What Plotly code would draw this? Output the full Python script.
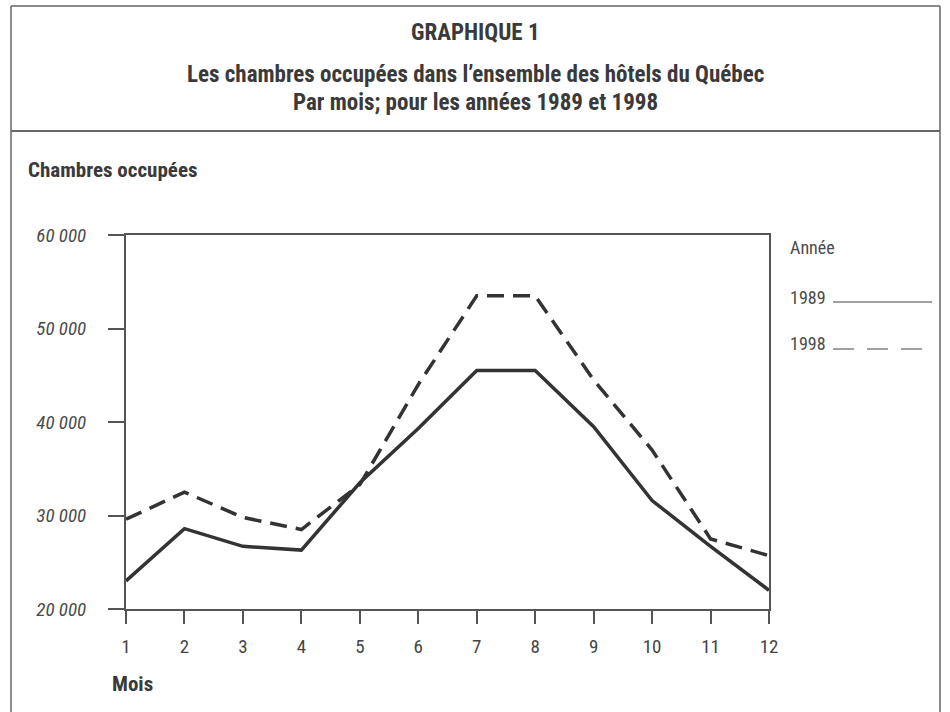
import plotly.graph_objects as go

# ---- data ----
mois = [1, 2, 3, 4, 5, 6, 7, 8, 9, 10, 11, 12]
chambres_1989 = [23000, 28600, 26700, 26300, 33500, 39300, 45500, 45500, 39500, 31600, 26700, 22000]
chambres_1998 = [29600, 32500, 29800, 28500, 33300, 44000, 53500, 53500, 44500, 37000, 27500, 25700]
y_ticks = [20000, 30000, 40000, 50000, 60000]
y_tick_labels = ["20 000", "30 000", "40 000", "50 000", "60 000"]

# ---- layout geometry (pixels) ----
W, H = 950, 712
L, R, T, B = 126, 769, 235, 609

def px(x):
    return (x - L) / (R - L)

def py(y):
    return (B - y) / (B - T)

FONT = "Liberation Sans Narrow, Roboto Condensed, Arial Narrow, Roboto, sans-serif"
TXT = "#3a3a3a"
LINE = "#333333"
AX = "#555555"

fig = go.Figure()
fig.add_trace(go.Scatter(x=mois, y=chambres_1989, mode="lines", name="1989",
                         line=dict(color=LINE, width=3.5), cliponaxis=False))
fig.add_trace(go.Scatter(x=mois, y=chambres_1998, mode="lines", name="1998",
                         line=dict(color=LINE, width=3.5, dash="17px,9px"), cliponaxis=False))

fig.update_layout(
    width=W, height=H,
    margin=dict(l=L, r=W - R, t=T, b=H - B),
    paper_bgcolor="white", plot_bgcolor="white",
    showlegend=False,
    font=dict(family=FONT, color=TXT),
)
fig.update_xaxes(range=[1, 12], tickvals=mois, ticks="outside", ticklen=13, tickwidth=2,
                 tickcolor=AX, showline=True, linecolor=AX, linewidth=2, mirror=True,
                 showgrid=False, zeroline=False, ticklabelstandoff=6,
                 tickfont=dict(family=FONT, size=19, color="#444444"))
fig.update_yaxes(range=[20000, 60000], tickvals=y_ticks, ticktext=y_tick_labels,
                 ticks="outside", ticklen=16, tickwidth=2, tickcolor=AX,
                 showline=True, linecolor=AX, linewidth=2, mirror=True,
                 showgrid=False, zeroline=False, ticklabelstandoff=18,
                 tickfont=dict(family=FONT, size=19, color="#4a4a4a", style="italic"))

ann = []
def text(x, y, s, size, bold=False, anchor="center", style="normal", color=TXT):
    ann.append(dict(x=px(x), y=py(y), xref="paper", yref="paper", text=s, showarrow=False,
                    xanchor=anchor, yanchor="middle",
                    font=dict(family=FONT, size=size, color=color,
                              weight="bold" if bold else "normal", style=style)))

text(475, 32, "GRAPHIQUE 1", 23, bold=True)
text(475, 74, "Les chambres occupées dans l’ensemble des hôtels du Québec", 23, bold=True)
text(475, 103, "Par mois; pour les années 1989 et 1998", 23, bold=True)
text(26, 170, "Chambres occupées", 21, bold=True, anchor="left")
text(110, 684, "Mois", 21, bold=True, anchor="left")
text(788, 247, "Année", 18, anchor="left", color="#4a4a4a")
text(788, 297, "1989", 18, anchor="left", color="#4a4a4a")
text(788, 343, "1998", 18, anchor="left", color="#4a4a4a")
fig.update_layout(annotations=ann)

shapes = []
def seg(x0, y0, x1, y1, color="#666666", width=1.5, dash="solid"):
    shapes.append(dict(type="line", xref="paper", yref="paper",
                       x0=px(x0), y0=py(y0), x1=px(x1), y1=py(y1),
                       line=dict(color=color, width=width, dash=dash)))

# outer frame
seg(11, 6, 940, 6)
seg(11, 6, 11, 712)
seg(940, 6, 940, 712)
seg(11, 131, 940, 131, width=2)
# legend samples
seg(833, 302, 932, 302, color="#444444", width=1.2)
seg(833, 349, 932, 349, color="#444444", width=1.2, dash="21px,13px")
fig.update_layout(shapes=shapes)

fig.write_html("out.html", config={"displayModeBar": False},
               post_script="document.body.style.margin='0';")
